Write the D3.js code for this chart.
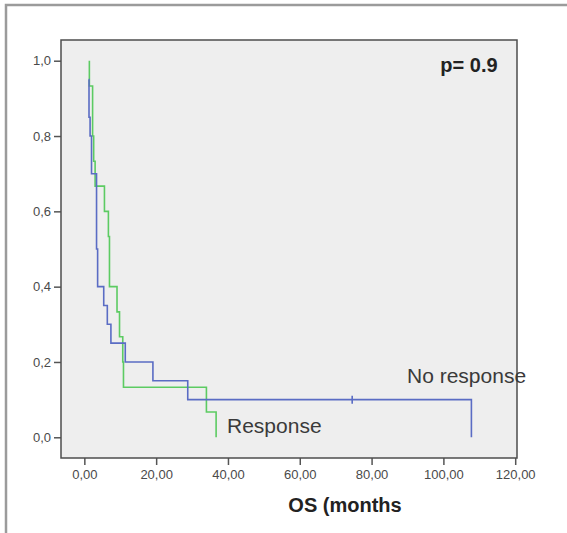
<!DOCTYPE html>
<html>
<head>
<meta charset="utf-8">
<script src="https://cdn.jsdelivr.net/npm/d3@7"></script>
<style>
  body { margin: 0; background: #fff; }
  text { font-family: "Liberation Sans", Arial, sans-serif; }
</style>
</head>
<body>
<div id="chart"></div>
<script>
// Kaplan-Meier step data (time in months, survival after the step)
var noRespTime = [1.2, 1.3, 1.6, 2.0, 3.4, 3.7, 5.4, 6.4, 7.4, 11.4, 19.1, 28.8, 107.8];
var noRespSurv = [0.95, 0.85, 0.8, 0.7, 0.5, 0.4, 0.35, 0.3, 0.25, 0.2, 0.15, 0.1, 0.0];
var noRespCensor = [74.6];

var respTime = [1.4, 1.4, 2.3, 2.6, 3.0, 5.6, 6.7, 7.0, 9.1, 9.8, 10.7, 10.9, 34.0, 36.7];
var respSurv = [1.0, 0.933, 0.8, 0.733, 0.667, 0.6, 0.533, 0.4, 0.333, 0.267, 0.2, 0.133, 0.067, 0.0];

var xTicks = [0, 20, 40, 60, 80, 100, 120];
var yTicks = [0, 0.2, 0.4, 0.6, 0.8, 1.0];

var width = 567, height = 533;
var plot = { left: 61, top: 40, right: 517, bottom: 458 };

var svg = d3.select("#chart")
    .append("svg")
    .attr("width", width)
    .attr("height", height);

// outer grey frame (cut off at right and bottom)
svg.append("rect")
    .attr("x", 6).attr("y", 5)
    .attr("width", 700).attr("height", 700)
    .attr("fill", "none")
    .attr("stroke", "#9b9b9b")
    .attr("stroke-width", 2.5);

var x = d3.scaleLinear().domain([-6.5, 120.5]).range([plot.left, plot.right]);
var y = d3.scaleLinear().domain([-0.055, 1.055]).range([plot.bottom, plot.top]);

// plot background
svg.append("rect")
    .attr("x", plot.left).attr("y", plot.top)
    .attr("width", plot.right - plot.left)
    .attr("height", plot.bottom - plot.top)
    .attr("fill", "#eeeeee");

var comma = function(fmt) {
    return function(d) { return d3.format(fmt)(d).replace(".", ","); };
};

var xAxis = svg.append("g")
    .attr("transform", "translate(0," + plot.bottom + ")")
    .call(d3.axisBottom(x).tickValues(xTicks).tickSize(7).tickSizeOuter(0).tickPadding(5).tickFormat(comma(".2f")));

var yAxis = svg.append("g")
    .attr("transform", "translate(" + plot.left + ",0)")
    .call(d3.axisLeft(y).tickValues(yTicks).tickSize(7).tickSizeOuter(0).tickPadding(3).tickFormat(comma(".1f")));

[xAxis, yAxis].forEach(function(a) {
    a.select(".domain").remove();
    a.selectAll(".tick line").attr("stroke", "#555").attr("stroke-width", 1.5);
    a.selectAll(".tick text")
        .attr("fill", "#4a4a4a")
        .style("font-size", "13px")
        .style("font-family", "'Liberation Sans', Arial, sans-serif");
});

// step curves
var line = d3.line()
    .x(function(d) { return x(d[0]); })
    .y(function(d) { return y(d[1]); })
    .curve(d3.curveStepAfter);

var series = [
    { time: respTime, surv: respSurv, color: "#5ccb62" },
    { time: noRespTime, surv: noRespSurv, color: "#5a6cc4" }
];

series.forEach(function(s) {
    var pts = s.time.map(function(t, i) { return [t, s.surv[i]]; });
    svg.append("path")
        .attr("d", line(pts))
        .attr("fill", "none")
        .attr("stroke", s.color)
        .attr("stroke-width", 1.6);
});

// censor mark on No response curve
svg.selectAll(".censor")
    .data(noRespCensor)
    .enter()
    .append("line")
    .attr("x1", function(d) { return x(d); })
    .attr("x2", function(d) { return x(d); })
    .attr("y1", y(0.1) - 4)
    .attr("y2", y(0.1) + 4)
    .attr("stroke", "#5a6cc4")
    .attr("stroke-width", 1.6);

// plot border
svg.append("rect")
    .attr("x", plot.left).attr("y", plot.top)
    .attr("width", plot.right - plot.left)
    .attr("height", plot.bottom - plot.top)
    .attr("fill", "none")
    .attr("stroke", "#4d4d4d")
    .attr("stroke-width", 1.5);

// labels
svg.append("text")
    .attr("x", 407).attr("y", 382.5)
    .attr("fill", "#3a3a3a")
    .style("font-size", "21px")
    .text("No response");

svg.append("text")
    .attr("x", 227).attr("y", 432.5)
    .attr("fill", "#3a3a3a")
    .style("font-size", "21px")
    .text("Response");

svg.append("text")
    .attr("x", 469).attr("y", 71.5)
    .attr("text-anchor", "middle")
    .attr("fill", "#222")
    .style("font-size", "20px")
    .style("font-weight", "bold")
    .text("p= 0.9");

svg.append("text")
    .attr("x", 345).attr("y", 511.5)
    .attr("text-anchor", "middle")
    .attr("fill", "#222")
    .style("font-size", "20px")
    .style("font-weight", "bold")
    .text("OS (months");
</script>
</body>
</html>
